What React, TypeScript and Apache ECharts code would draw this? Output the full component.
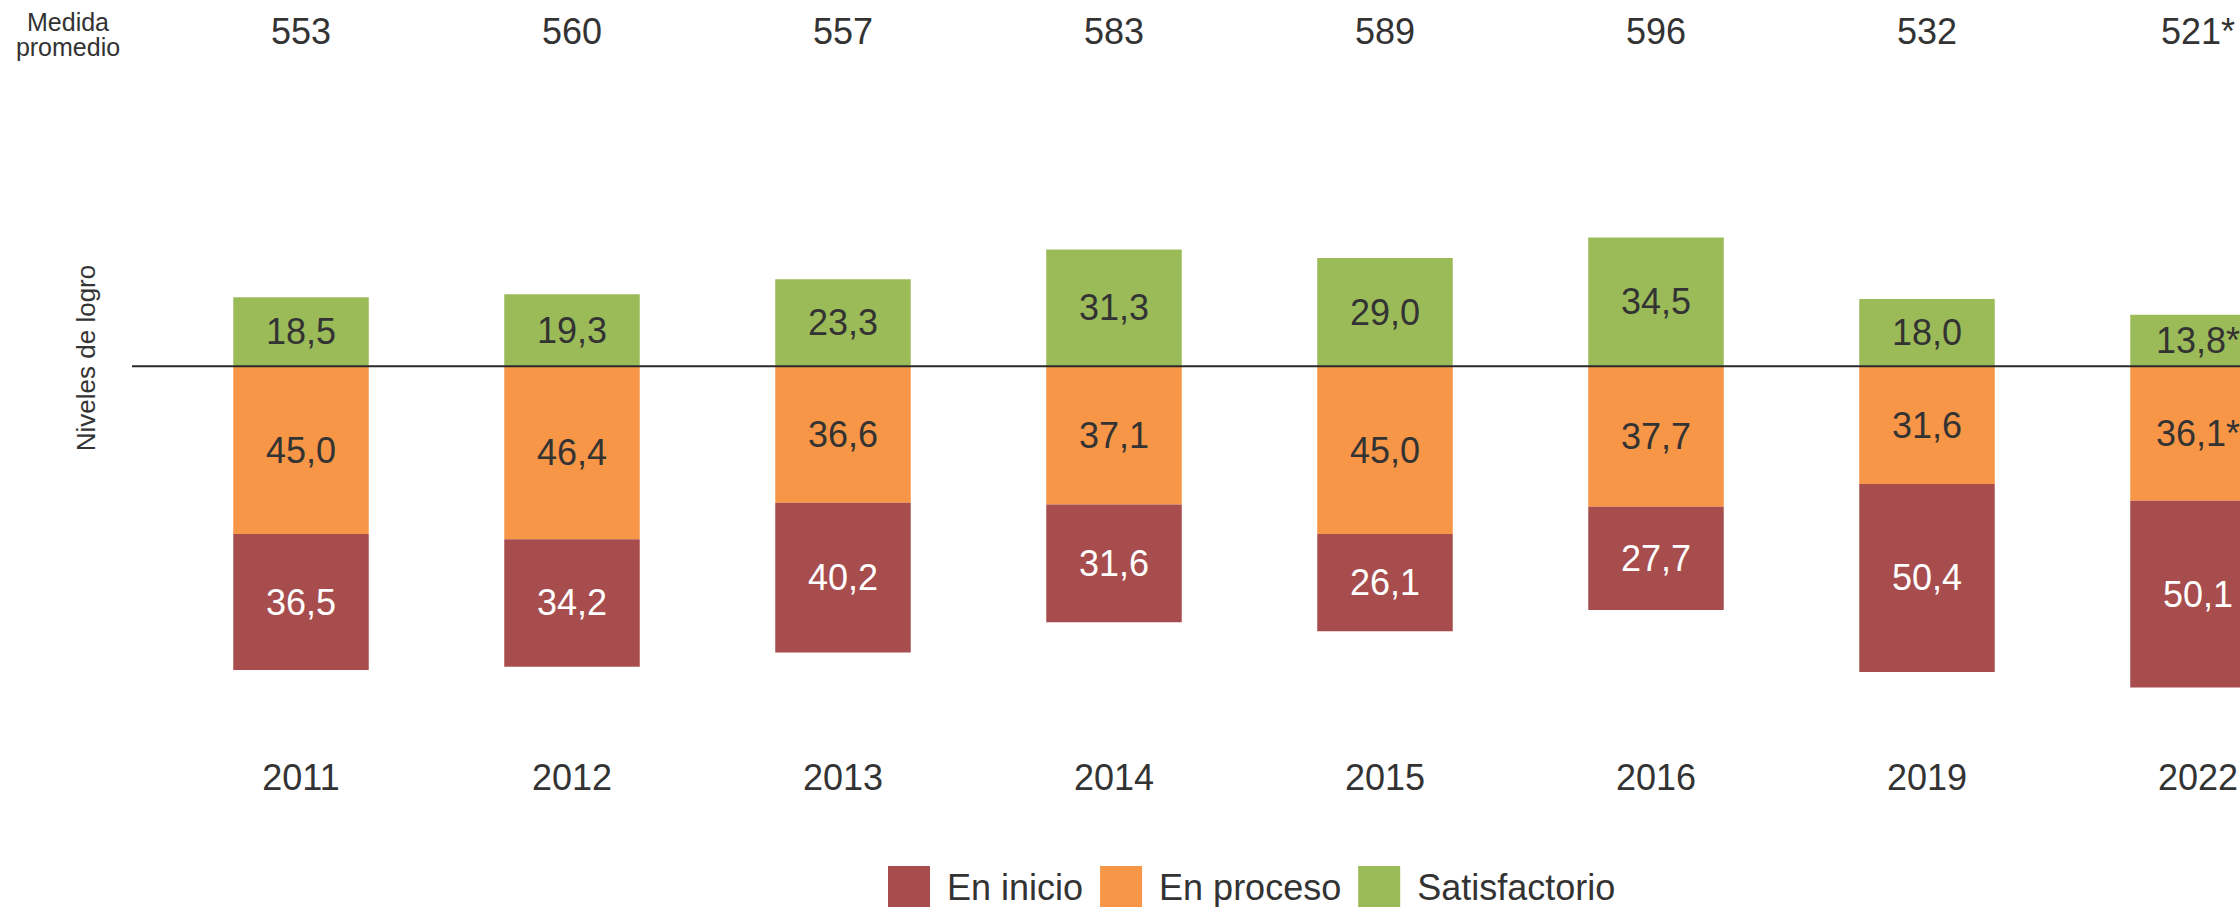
import React, { useEffect, useRef } from "react";
import * as echarts from "echarts";

const years = ["2011", "2012", "2013", "2014", "2015", "2016", "2019", "2022"];
const medida = ["553", "560", "557", "583", "589", "596", "532", "521*"];
const satisfactorio = [18.5, 19.3, 23.3, 31.3, 29.0, 34.5, 18.0, 13.8];
const enProceso = [45.0, 46.4, 36.6, 37.1, 45.0, 37.7, 31.6, 36.1];
const enInicio = [36.5, 34.2, 40.2, 31.6, 26.1, 27.7, 50.4, 50.1];
const satFlag = [false, false, false, false, false, false, false, true];
const procFlag = [false, false, false, false, false, false, false, true];
const inicioFlag = [false, false, false, false, false, false, false, false];

const FONT = "'Liberation Sans', Arial, Helvetica, sans-serif";
const GREEN = "#9BBB59";
const ORANGE = "#F79646";
const RED = "#A84D4D";
const TEXT = "#333333";

const fmt = (v: number) => Math.abs(v).toFixed(1).replace(".", ",");

export default function App() {
  const ref = useRef<HTMLDivElement>(null);
  useEffect(() => {
    if (!ref.current) return;
    const chart = echarts.init(ref.current, null, { renderer: "svg" });
    const labelFor = (flags: boolean[], color: string) => ({
      show: true,
      position: "inside",
      color,
      fontSize: 36,
      fontFamily: FONT,
      formatter: (p: any) => fmt(p.value) + (flags[p.dataIndex] ? "*" : ""),
    });
    chart.setOption({
      animation: false,
      backgroundColor: "#ffffff",
      grid: {
        left: 165.5,
        width: 2168,
        top: 68,
        height: 671,
        containLabel: false,
        outerBoundsMode: "none",
      },
      legend: {
        data: ["En inicio", "En proceso", "Satisfactorio"],
        left: 883,
        top: 861,
        icon: "rect",
        itemWidth: 42,
        itemHeight: 42,
        itemGap: 17,
        textStyle: { fontSize: 36, color: TEXT, fontFamily: FONT, padding: [0, 0, 0, 12] },
      },
      xAxis: [
        {
          type: "category",
          data: years,
          position: "bottom",
          axisLine: { show: false },
          axisTick: { show: false },
          axisLabel: { fontSize: 36, color: TEXT, fontFamily: FONT, margin: 20 },
        },
        {
          type: "category",
          data: medida,
          position: "top",
          axisLine: { show: false },
          axisTick: { show: false },
          axisLabel: { fontSize: 36, color: TEXT, fontFamily: FONT, margin: 19 },
        },
      ],
      yAxis: {
        type: "value",
        min: -100,
        max: 80,
        show: false,
        splitLine: { show: false },
      },
      series: [
        {
          name: "Satisfactorio",
          type: "bar",
          stack: "total",
          barWidth: "50%",
          data: satisfactorio,
          itemStyle: { color: GREEN },
          label: labelFor(satFlag, TEXT),
        },
        {
          name: "En proceso",
          type: "bar",
          stack: "total",
          barWidth: "50%",
          data: enProceso.map((v) => -v),
          itemStyle: { color: ORANGE },
          label: labelFor(procFlag, TEXT),
        },
        {
          name: "En inicio",
          type: "bar",
          stack: "total",
          barWidth: "50%",
          data: enInicio.map((v) => -v),
          itemStyle: { color: RED },
          label: labelFor(inicioFlag, "#ffffff"),
        },
      ],
    });
    const y0 = chart.convertToPixel({ yAxisIndex: 0 }, 0) as number;
    chart.setOption({
      graphic: [
        {
          type: "line",
          z: 100,
          shape: { x1: 132, y1: y0, x2: 2240, y2: y0 },
          style: { stroke: "#2a2a2a", lineWidth: 2 },
        },
        {
          type: "text",
          x: 68,
          y: 34.5,
          style: {
            text: "Medida\npromedio",
            fontSize: 25,
            lineHeight: 25,
            fontFamily: FONT,
            fill: TEXT,
            align: "center",
            verticalAlign: "middle",
          },
        },
        {
          type: "text",
          x: 86,
          y: 358,
          rotation: Math.PI / 2,
          style: {
            text: "Niveles de logro",
            fontSize: 26,
            fontFamily: FONT,
            fill: TEXT,
            align: "center",
            verticalAlign: "middle",
          },
        },
      ],
    });
    return () => chart.dispose();
  }, []);
  return (
    <div
      ref={ref}
      style={{ position: "fixed", left: 0, top: 0, width: 2240, height: 907, background: "#fff" }}
    />
  );
}
